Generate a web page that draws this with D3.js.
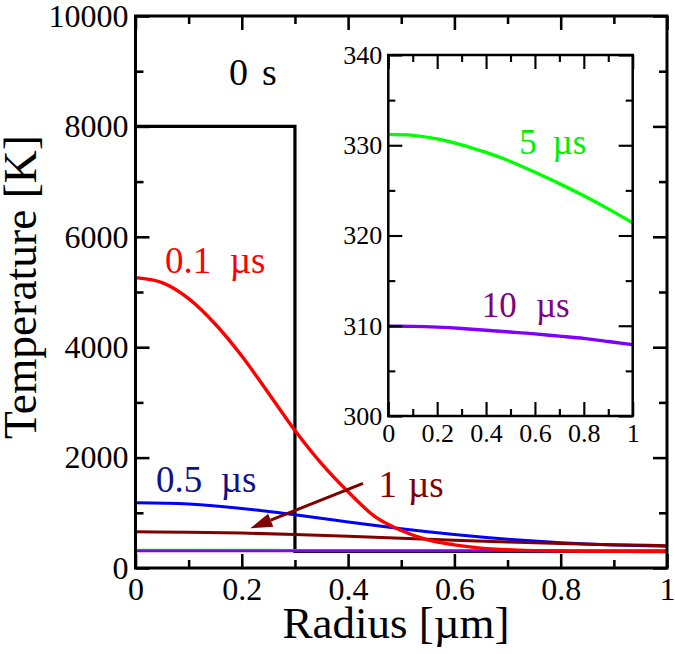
<!DOCTYPE html>
<html>
<head>
<meta charset="utf-8">
<script src="https://cdn.jsdelivr.net/npm/d3@7"></script>
</head>
<body style="margin:0;background:#fff">
<script>
// ---------- data ----------
const radiusFine = [0,0.05,0.1,0.15,0.2,0.25,0.3,0.35,0.4,0.45,0.5,0.55,0.6,0.65,0.7,0.75,0.8,0.85,0.9,0.95,1];
const radiusCoarse = [0,0.1,0.2,0.3,0.4,0.5,0.6,0.7,0.8,0.9,1];

const radiusInitial = [0,0.3,0.3,1];
const temp0s = [8000,8000,300,300];
const temp01us = [5260,5170,4880,4420,3840,3170,2490,1890,1380,935,680,510,420,360,330,315,307,303,301,300,300];
const temp05us = [1180,1160,1080,965,835,710,605,520,458,418,395];
const temp1us = [655,649,633,608,576,540,503,470,443,422,405];
const temp5us = [331.2,331.1,330.7,330.05,329.2,328.2,327.0,325.75,324.4,322.95,321.4];
const temp10us = [309.95,309.93,309.85,309.7,309.5,309.3,309.1,308.85,308.6,308.25,307.9];

const mainXTicks = [0,0.2,0.4,0.6,0.8,1];
const mainXMinor = [0.1,0.3,0.5,0.7,0.9];
const mainYTicks = [0,2000,4000,6000,8000,10000];
const mainYMinor = [1000,3000,5000,7000,9000];
const insetXTicks = [0,0.2,0.4,0.6,0.8,1];
const insetXMinor = [0.1,0.3,0.5,0.7,0.9];
const insetYTicks = [300,310,320,330,340];
const insetYMinor = [305,315,325,335];

// annotation (data units)
const arrowTail = [0.428,1534];
const arrowTip = [0.216,719];

// ---------- drawing ----------
const FONT = "Liberation Serif";
const W = 675, H = 654;
const svg = d3.select("body").append("svg").attr("width", W).attr("height", H)
  .attr("font-family", FONT);

const x = d3.scaleLinear([0,1],[135.5,667]);
const y = d3.scaleLinear([0,10000],[568,16]);
const xi = d3.scaleLinear([0,1],[388.3,632.7]);
const yi = d3.scaleLinear([300,340],[416,55]);

function zip(a,b){ return a.map((v,i)=>[v,b[i]]); }

function frameAxes(g, xs, ys, xt, xm, yt, ym, major, minor, fs, sw, labels) {
  const [x0,x1] = xs.range(), [y0,y1] = ys.range();
  const mk = (axis, tr) => {
    const a = g.append("g").attr("transform", tr).call(axis);
    a.attr("font-family", FONT);
    a.select(".domain").remove();
    a.selectAll("line").attr("stroke","#000").attr("stroke-width", sw*0.85);
    return a;
  };
  const b = mk(d3.axisBottom(xs).tickValues(xt).tickSize(-major).tickPadding(labels.xpad).tickFormat(d=>String(d)), `translate(0,${y0})`);
  b.selectAll("text").attr("font-size", fs).attr("fill","#000").attr("font-family", FONT);
  mk(d3.axisBottom(xs).tickValues(xm).tickSize(-minor).tickFormat(""), `translate(0,${y0})`);
  mk(d3.axisTop(xs).tickValues(xt).tickSize(-major).tickFormat(""), `translate(0,${y1})`);
  mk(d3.axisTop(xs).tickValues(xm).tickSize(-minor).tickFormat(""), `translate(0,${y1})`);
  const l = mk(d3.axisLeft(ys).tickValues(yt).tickSize(-major).tickPadding(labels.ypad).tickFormat(d=>String(d)), `translate(${x0},0)`);
  l.selectAll("text").attr("font-size", fs).attr("fill","#000").attr("font-family", FONT);
  mk(d3.axisLeft(ys).tickValues(ym).tickSize(-minor).tickFormat(""), `translate(${x0},0)`);
  mk(d3.axisRight(ys).tickValues(yt).tickSize(-major).tickFormat(""), `translate(${x1},0)`);
  mk(d3.axisRight(ys).tickValues(ym).tickSize(-minor).tickFormat(""), `translate(${x1},0)`);
  g.append("rect").attr("x", x0).attr("y", y1).attr("width", x1-x0).attr("height", y0-y1)
    .attr("fill","none").attr("stroke","#000").attr("stroke-width", sw);
}

// ---- main curves ----
const main = svg.append("g");
const lineSmooth = d3.line().x(d=>x(d[0])).y(d=>y(d[1])).curve(d3.curveNatural);
const lineMono = d3.line().x(d=>x(d[0])).y(d=>y(d[1])).curve(d3.curveMonotoneX);
const lineStep = d3.line().x(d=>x(d[0])).y(d=>y(d[1]));

main.append("path").datum(zip(radiusInitial,temp0s)).attr("d", lineStep)
  .attr("fill","none").attr("stroke","#000").attr("stroke-width",3.2).attr("stroke-linejoin","miter");
main.append("path").datum(zip(radiusCoarse,temp5us)).attr("d", lineSmooth)
  .attr("fill","none").attr("stroke","#00ff00").attr("stroke-width",1.8);
main.append("path").datum(zip(radiusCoarse,temp10us)).attr("d", lineSmooth)
  .attr("fill","none").attr("stroke","#8000ff").attr("stroke-width",2.8);
main.append("path").datum(zip(radiusCoarse,temp05us)).attr("d", lineSmooth)
  .attr("fill","none").attr("stroke","#0000ff").attr("stroke-width",3);
main.append("path").datum(zip(radiusCoarse,temp1us)).attr("d", lineSmooth)
  .attr("fill","none").attr("stroke","#800000").attr("stroke-width",3);
main.append("path").datum(zip(radiusFine,temp01us)).attr("d", lineMono)
  .attr("fill","none").attr("stroke","#ff0000").attr("stroke-width",3.4);

// arrow
{
  const tx = x(arrowTail[0]), ty = y(arrowTail[1]);
  const hx = x(arrowTip[0]), hy = y(arrowTip[1]);
  const ang = Math.atan2(hy-ty, hx-tx);
  const L = 22, Wd = 7;
  const bx = hx - L*Math.cos(ang), by = hy - L*Math.sin(ang);
  main.append("line").attr("x1",tx).attr("y1",ty).attr("x2",bx).attr("y2",by)
    .attr("stroke","#800000").attr("stroke-width",3);
  const p1 = [bx + Wd*Math.sin(ang), by - Wd*Math.cos(ang)];
  const p2 = [bx - Wd*Math.sin(ang), by + Wd*Math.cos(ang)];
  main.append("path").attr("d", `M${hx},${hy}L${p1[0]},${p1[1]}L${p2[0]},${p2[1]}Z`).attr("fill","#800000");
}

frameAxes(svg.append("g"), x, y, mainXTicks, mainXMinor, mainYTicks, mainYMinor, 14, 8, 32, 3, {xpad: 9, ypad: 7});

function label(g, px, py, num, unit, color, fs, gap) {
  const t = g.append("text").attr("x", px).attr("y", py).attr("fill", color)
    .attr("font-size", fs).attr("font-family", FONT);
  t.append("tspan").text(num + " ");
  t.append("tspan").attr("dx", gap + "em").text(unit);
  return t;
}
label(svg, x(0.176), y(8750), "0", "s", "#000", 38, 0.12);
label(svg, x(0.0556), y(5339), "0.1", "µs", "#ff0000", 37, 0.25);
label(svg, x(0.0386), y(1382), "0.5", "µs", "#10108c", 37, 0.25);
label(svg, x(0.457), y(1292), "1", "µs", "#800000", 37, 0.05);

// ---- inset ----
const inset = svg.append("g");
inset.append("rect").attr("x", xi(0)).attr("y", yi(340)).attr("width", xi(1)-xi(0)).attr("height", yi(300)-yi(340)).attr("fill","#fff");
const lineInset = d3.line().x(d=>xi(d[0])).y(d=>yi(d[1])).curve(d3.curveNatural);
inset.append("path").datum(zip(radiusCoarse,temp5us)).attr("d", lineInset)
  .attr("fill","none").attr("stroke","#00ff00").attr("stroke-width",3.4);
inset.append("path").datum(zip(radiusCoarse,temp10us)).attr("d", lineInset)
  .attr("fill","none").attr("stroke","#8000ff").attr("stroke-width",3.4);
frameAxes(inset, xi, yi, insetXTicks, insetXMinor, insetYTicks, insetYMinor, 14, 7, 26, 2.5, {xpad: 8, ypad: 6});
label(inset, xi(0.536), yi(329.03), "5", "µs", "#00ee00", 35, 0.2);
label(inset, xi(0.382), yi(311.0), "10", "µs", "#800080", 35, 0.3);

// ---- axis titles ----
svg.append("text").attr("transform", "translate(36,287) rotate(-90)").attr("text-anchor","middle")
  .attr("font-size", 45.5).attr("fill","#000").attr("font-family", FONT).text("Temperature [K]");
svg.append("text").attr("x", 396).attr("y", 638).attr("text-anchor","middle")
  .attr("font-size", 45).attr("fill","#000").attr("font-family", FONT).text("Radius [µm]");
</script>
</body>
</html>
